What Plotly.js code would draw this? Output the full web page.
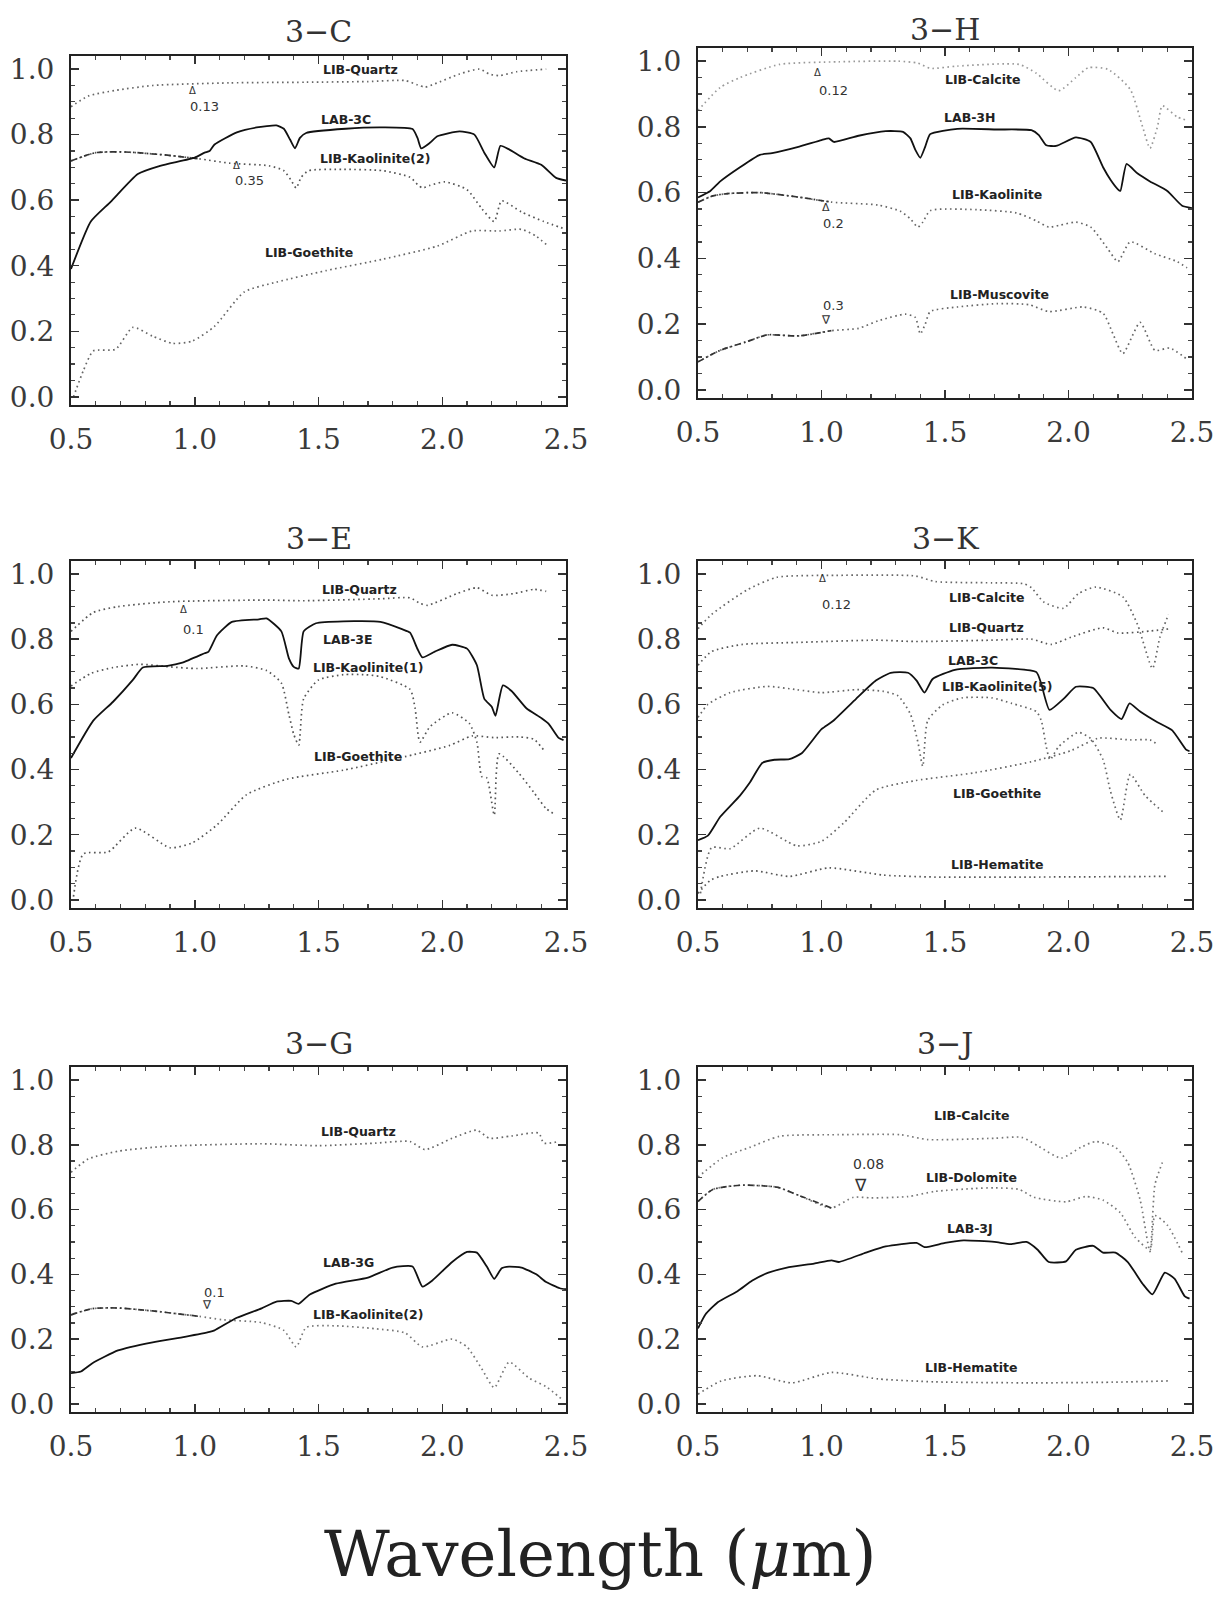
<!DOCTYPE html>
<html>
<head>
<meta charset="utf-8">
<script src="https://cdn.plot.ly/plotly-3.0.1.min.js"></script>
<style>html,body{margin:0;padding:0;background:#fff;}#chart{width:1223px;height:1601px;}</style>
</head>
<body>
<div id="chart"></div>
<script>
// ---------- Panel 3-C ----------
const c_lab_x = [0.50,0.58,0.66,0.77,0.86,1.00,1.04,1.06,1.08,1.17,1.25,1.33,1.36,1.385,1.405,1.425,1.45,1.61,1.76,1.88,1.90,1.915,1.95,1.98,2.07,2.13,2.17,2.21,2.235,2.27,2.33,2.40,2.46,2.50];
const c_lab_y = [0.39,0.535,0.595,0.68,0.705,0.73,0.745,0.75,0.77,0.807,0.822,0.828,0.818,0.785,0.758,0.79,0.805,0.818,0.822,0.817,0.79,0.758,0.775,0.795,0.81,0.80,0.745,0.70,0.766,0.755,0.728,0.708,0.668,0.66];
const c_qtz_x = [0.50,0.57,0.68,0.83,1.14,1.45,1.70,1.85,1.90,1.93,1.97,2.07,2.15,2.19,2.23,2.30,2.42];
const c_qtz_y = [0.885,0.918,0.935,0.95,0.958,0.96,0.962,0.965,0.952,0.945,0.955,0.985,1.0,0.985,0.98,0.992,1.0];
const c_kao_x = [0.50,0.60,0.72,0.88,1.02,1.14,1.30,1.36,1.39,1.41,1.43,1.46,1.60,1.76,1.87,1.90,1.92,1.95,2.01,2.10,2.16,2.21,2.24,2.32,2.41,2.50];
const c_kao_y = [0.72,0.745,0.747,0.738,0.726,0.713,0.705,0.69,0.66,0.637,0.67,0.69,0.694,0.69,0.67,0.648,0.637,0.645,0.656,0.632,0.574,0.535,0.598,0.564,0.535,0.511];
const c_goe_x = [0.51,0.55,0.59,0.68,0.75,0.83,0.91,0.99,1.08,1.20,1.33,1.53,1.76,1.98,2.12,2.23,2.32,2.38,2.42];
const c_goe_y = [0.0,0.08,0.14,0.145,0.212,0.185,0.163,0.17,0.215,0.32,0.35,0.385,0.42,0.46,0.506,0.506,0.511,0.49,0.465];

// ---------- Panel 3-H ----------
const h_lab_x = [0.50,0.55,0.59,0.67,0.75,0.80,0.91,1.00,1.03,1.05,1.15,1.26,1.33,1.36,1.38,1.40,1.42,1.44,1.55,1.71,1.85,1.88,1.91,1.95,2.03,2.09,2.14,2.17,2.20,2.21,2.235,2.28,2.33,2.40,2.46,2.50];
const h_lab_y = [0.585,0.605,0.634,0.677,0.715,0.72,0.74,0.76,0.765,0.754,0.773,0.787,0.785,0.765,0.73,0.706,0.74,0.778,0.794,0.792,0.79,0.775,0.744,0.742,0.768,0.754,0.677,0.639,0.61,0.605,0.687,0.658,0.634,0.605,0.56,0.553];
const h_cal_x = [0.50,0.59,0.67,0.83,1.07,1.31,1.39,1.44,1.55,1.80,1.87,1.96,2.03,2.08,2.16,2.25,2.30,2.33,2.36,2.38,2.44,2.48];
const h_cal_y = [0.85,0.92,0.95,0.99,0.998,1.0,0.994,0.978,0.985,0.99,0.963,0.91,0.95,0.98,0.975,0.914,0.8,0.735,0.8,0.864,0.83,0.82];
const h_kao_x = [0.50,0.56,0.62,0.75,0.91,1.04,1.23,1.32,1.36,1.39,1.41,1.44,1.63,1.79,1.87,1.92,1.96,2.03,2.09,2.16,2.20,2.25,2.35,2.44,2.48];
const h_kao_y = [0.571,0.59,0.597,0.6,0.586,0.571,0.562,0.543,0.52,0.495,0.51,0.545,0.548,0.538,0.514,0.495,0.5,0.51,0.495,0.428,0.39,0.45,0.414,0.39,0.371];
const h_mus_x = [0.50,0.59,0.70,0.78,0.91,1.04,1.15,1.23,1.34,1.38,1.40,1.42,1.44,1.55,1.71,1.84,1.92,2.06,2.14,2.18,2.22,2.29,2.35,2.41,2.48];
const h_mus_y = [0.085,0.12,0.147,0.167,0.164,0.18,0.187,0.21,0.23,0.22,0.17,0.2,0.238,0.252,0.262,0.259,0.238,0.252,0.233,0.17,0.11,0.205,0.12,0.127,0.093];

// ---------- Panel 3-E ----------
const e_lab_x = [0.50,0.59,0.67,0.75,0.79,0.89,0.95,1.04,1.056,1.09,1.15,1.26,1.29,1.35,1.38,1.40,1.42,1.44,1.49,1.60,1.75,1.84,1.87,1.90,1.92,1.97,2.04,2.10,2.14,2.17,2.20,2.215,2.245,2.28,2.34,2.40,2.43,2.47,2.49];
const e_lab_y = [0.435,0.55,0.608,0.675,0.713,0.718,0.728,0.757,0.762,0.812,0.853,0.861,0.864,0.824,0.742,0.715,0.71,0.824,0.849,0.855,0.853,0.83,0.82,0.77,0.744,0.762,0.783,0.771,0.72,0.617,0.593,0.565,0.658,0.641,0.588,0.558,0.54,0.497,0.49];
const e_qtz_x = [0.50,0.59,0.69,0.90,1.29,1.44,1.75,1.87,1.91,1.94,2.06,2.14,2.20,2.29,2.37,2.42];
const e_qtz_y = [0.824,0.882,0.90,0.915,0.92,0.918,0.924,0.927,0.91,0.904,0.94,0.958,0.935,0.94,0.953,0.947];
const e_kao_x = [0.50,0.58,0.67,0.78,0.90,1.01,1.20,1.29,1.35,1.38,1.40,1.42,1.44,1.50,1.60,1.69,1.75,1.87,1.89,1.91,1.95,2.04,2.11,2.14,2.16,2.18,2.21,2.23,2.31,2.37,2.42,2.46];
const e_kao_y = [0.656,0.695,0.713,0.723,0.715,0.71,0.718,0.704,0.665,0.57,0.508,0.475,0.617,0.675,0.691,0.691,0.685,0.646,0.589,0.484,0.531,0.574,0.541,0.484,0.378,0.374,0.26,0.448,0.388,0.33,0.28,0.26];
const e_goe_x = [0.51,0.55,0.65,0.76,0.90,0.99,1.09,1.21,1.37,1.60,1.83,2.03,2.12,2.21,2.31,2.37,2.41];
const e_goe_y = [0.01,0.141,0.147,0.22,0.16,0.175,0.23,0.323,0.37,0.398,0.436,0.474,0.503,0.498,0.5,0.493,0.46];

// ---------- Panel 3-K ----------
const k_lab_x = [0.50,0.54,0.59,0.67,0.71,0.76,0.81,0.87,0.92,1.00,1.045,1.14,1.22,1.28,1.35,1.385,1.417,1.45,1.54,1.69,1.87,1.89,1.923,1.98,2.03,2.10,2.17,2.215,2.247,2.29,2.36,2.42,2.476,2.49];
const k_lab_y = [0.183,0.197,0.255,0.32,0.36,0.42,0.43,0.432,0.45,0.524,0.548,0.617,0.673,0.697,0.697,0.673,0.636,0.678,0.706,0.713,0.699,0.662,0.583,0.617,0.654,0.65,0.583,0.555,0.603,0.578,0.545,0.52,0.461,0.456];
const k_cal_x = [0.50,0.555,0.70,0.82,1.06,1.38,1.46,1.69,1.82,1.85,1.90,1.98,2.04,2.11,2.22,2.28,2.34,2.37,2.405];
const k_cal_y = [0.832,0.876,0.952,0.99,0.996,0.994,0.977,0.973,0.97,0.958,0.914,0.895,0.94,0.96,0.93,0.844,0.71,0.806,0.876];
const k_qtz_x = [0.50,0.555,0.68,0.90,1.22,1.38,1.69,1.85,1.93,2.01,2.14,2.20,2.33,2.41];
const k_qtz_y = [0.72,0.762,0.784,0.79,0.797,0.793,0.797,0.80,0.784,0.806,0.835,0.819,0.825,0.832];
const k_kao_x = [0.50,0.54,0.63,0.78,0.90,1.00,1.14,1.25,1.31,1.36,1.39,1.41,1.43,1.49,1.57,1.69,1.77,1.87,1.89,1.91,1.925,1.96,2.04,2.09,2.14,2.17,2.21,2.25,2.31,2.39];
const k_kao_y = [0.56,0.60,0.636,0.655,0.645,0.636,0.645,0.64,0.626,0.57,0.485,0.41,0.55,0.598,0.62,0.62,0.603,0.578,0.55,0.47,0.43,0.47,0.514,0.495,0.43,0.333,0.245,0.385,0.32,0.265];
const k_goe_x = [0.51,0.555,0.63,0.75,0.90,1.00,1.09,1.22,1.38,1.62,1.85,2.01,2.12,2.25,2.33,2.36];
const k_goe_y = [0.02,0.16,0.157,0.22,0.166,0.18,0.236,0.337,0.366,0.39,0.424,0.458,0.496,0.491,0.491,0.477];
const k_hem_x = [0.50,0.55,0.59,0.73,0.87,1.03,1.25,1.46,1.85,2.40];
const k_hem_y = [0.02,0.06,0.072,0.089,0.072,0.098,0.076,0.07,0.07,0.072];

// ---------- Panel 3-G ----------
const g_lab_x = [0.50,0.54,0.585,0.69,0.83,0.96,1.06,1.08,1.17,1.27,1.33,1.39,1.42,1.465,1.57,1.70,1.80,1.88,1.92,1.96,2.04,2.10,2.14,2.18,2.21,2.24,2.27,2.32,2.38,2.42,2.475,2.50];
const g_lab_y = [0.095,0.10,0.125,0.165,0.19,0.207,0.222,0.227,0.266,0.295,0.316,0.318,0.309,0.338,0.371,0.39,0.421,0.424,0.362,0.381,0.438,0.469,0.467,0.424,0.386,0.419,0.424,0.421,0.40,0.376,0.357,0.354];
const g_qtz_x = [0.50,0.57,0.69,0.88,1.27,1.50,1.73,1.87,1.93,2.04,2.14,2.19,2.28,2.39,2.41,2.47];
const g_qtz_y = [0.715,0.756,0.78,0.795,0.803,0.797,0.805,0.81,0.785,0.82,0.845,0.82,0.827,0.836,0.805,0.81];
const g_kao_x = [0.50,0.585,0.69,0.83,1.02,1.11,1.27,1.36,1.41,1.45,1.57,1.73,1.85,1.92,2.04,2.10,2.16,2.21,2.27,2.35,2.42,2.49];
const g_kao_y = [0.275,0.294,0.296,0.287,0.27,0.26,0.251,0.227,0.176,0.236,0.241,0.232,0.219,0.176,0.2,0.176,0.108,0.05,0.129,0.08,0.053,0.01];

// ---------- Panel 3-J ----------
const j_lab_x = [0.50,0.53,0.58,0.66,0.72,0.785,0.86,0.97,1.04,1.07,1.18,1.26,1.385,1.417,1.50,1.575,1.70,1.765,1.83,1.875,1.92,1.99,2.03,2.10,2.14,2.19,2.24,2.30,2.34,2.39,2.43,2.47,2.49];
const j_lab_y = [0.233,0.276,0.314,0.348,0.381,0.405,0.421,0.433,0.443,0.438,0.467,0.486,0.497,0.484,0.497,0.505,0.50,0.493,0.50,0.476,0.438,0.44,0.476,0.488,0.467,0.467,0.438,0.371,0.338,0.405,0.386,0.333,0.325];
const j_cal_x = [0.50,0.60,0.71,0.83,1.07,1.32,1.43,1.70,1.81,1.875,1.97,2.05,2.11,2.19,2.24,2.29,2.33,2.35,2.38];
const j_cal_y = [0.70,0.76,0.792,0.826,0.831,0.831,0.816,0.82,0.823,0.797,0.759,0.792,0.81,0.792,0.745,0.63,0.47,0.677,0.745];
const j_dol_x = [0.50,0.56,0.67,0.82,0.91,1.04,1.13,1.20,1.35,1.46,1.62,1.70,1.80,1.86,1.99,2.07,2.14,2.21,2.27,2.33,2.35,2.40,2.46];
const j_dol_y = [0.625,0.662,0.675,0.669,0.643,0.605,0.638,0.636,0.64,0.656,0.665,0.667,0.662,0.638,0.624,0.64,0.629,0.59,0.514,0.476,0.581,0.552,0.467];
const j_hem_x = [0.50,0.595,0.74,0.88,1.04,1.23,1.46,1.86,2.18,2.41];
const j_hem_y = [0.03,0.071,0.087,0.065,0.097,0.077,0.068,0.065,0.067,0.071];

// ---------- text ----------
const panelTitles = ['3\u2212C','3\u2212H','3\u2212E','3\u2212K','3\u2212G','3\u2212J'];
const xTickVals = [0.5,1.0,1.5,2.0,2.5];
const xTickText = ['0.5','1.0','1.5','2.0','2.5'];
const yTickVals = [0.0,0.2,0.4,0.6,0.8,1.0];
const yTickText = ['0.0','0.2','0.4','0.6','0.8','1.0'];
const xAxisTitle = 'Wavelength (<i>\u03bc</i>m)';

// curve labels: [panel index, text, x, y]
const curveLabels = [
  [0,'LIB-Quartz',1.67,1.0],[0,'LAB-3C',1.61,0.845],[0,'LIB-Kaolinite(2)',1.73,0.728],[0,'LIB-Goethite',1.46,0.44],
  [1,'LIB-Calcite',1.65,0.945],[1,'LAB-3H',1.60,0.828],[1,'LIB-Kaolinite',1.71,0.593],[1,'LIB-Muscovite',1.72,0.29],
  [2,'LIB-Quartz',1.666,0.953],[2,'LAB-3E',1.62,0.80],[2,'LIB-Kaolinite(1)',1.70,0.712],[2,'LIB-Goethite',1.66,0.44],
  [3,'LIB-Calcite',1.67,0.928],[3,'LIB-Quartz',1.67,0.836],[3,'LAB-3C',1.615,0.735],[3,'LIB-Kaolinite(5)',1.71,0.656],[3,'LIB-Goethite',1.71,0.327],[3,'LIB-Hematite',1.71,0.11],
  [4,'LIB-Quartz',1.66,0.842],[4,'LAB-3G',1.62,0.436],[4,'LIB-Kaolinite(2)',1.70,0.277],
  [5,'LIB-Calcite',1.607,0.89],[5,'LIB-Dolomite',1.607,0.70],[5,'LAB-3J',1.60,0.54],[5,'LIB-Hematite',1.607,0.112]
];
// scale markers: [panel, text, x, y, size]
const markerNotes = [
  [0,'\u0394',0.99,0.935,10],[0,'0.13',1.04,0.885,13],[0,'\u0394',1.17,0.705,10],[0,'0.35',1.22,0.66,13],
  [1,'\u0394',0.985,0.965,10],[1,'0.12',1.05,0.91,13],[1,'\u0394',1.02,0.556,11],[1,'0.2',1.05,0.505,13],[1,'0.3',1.05,0.258,13],[1,'\u2207',1.02,0.212,12],
  [2,'\u0394',0.956,0.89,10],[2,'0.1',0.996,0.83,13],
  [3,'\u0394',1.006,0.985,10],[3,'0.12',1.06,0.905,13],
  [4,'0.1',1.08,0.345,13],[4,'\u2207',1.048,0.305,12],
  [5,'0.08',1.19,0.74,14],[5,'\u2207',1.157,0.675,17]
];

// ---------- build ----------
const axisIds = ['','2','3','4','5','6'];
const H = 1601;
// per panel: [left px, right px, top px, bottom px, title center px]
const boxes = [
  [71, 566, 56, 405, 31],
  [698, 1192, 48, 398, 29],
  [71, 566, 561, 908, 538],
  [698, 1192, 561, 908, 538],
  [71, 566, 1067, 1412, 1043],
  [698, 1192, 1067, 1412, 1043]
];
const traces = [];

function seg(xs, ys, x0, x1){
  const X=[],Y=[];
  xs.forEach((v,i)=>{ if(v>=x0 && v<=x1){ X.push(v); Y.push(ys[i]); } });
  return [X,Y];
}
function lab(p, xs, ys){
  traces.push({x:xs, y:ys, xaxis:'x'+axisIds[p], yaxis:'y'+axisIds[p], mode:'lines',
    line:{color:'#111', width:1.8, shape:'spline', smoothing:0.5}, hoverinfo:'skip'});
}
function lib(p, xs, ys, col, darkStart){
  traces.push({x:xs, y:ys, xaxis:'x'+axisIds[p], yaxis:'y'+axisIds[p], mode:'lines',
    line:{color:col||'#555', width:1.7, dash:'1.6px,3.4px', shape:'spline', smoothing:0.6}, hoverinfo:'skip'});
  if(darkStart){
    const s = seg(xs, ys, 0.5, 1.05);
    traces.push({x:s[0], y:s[1], xaxis:'x'+axisIds[p], yaxis:'y'+axisIds[p], mode:'lines',
      line:{color:'#333', width:1.7, dash:'6px,3px,1.6px,3px', shape:'spline', smoothing:0.6}, hoverinfo:'skip'});
  }
}

// 3-C
lib(0, c_qtz_x, c_qtz_y, '#666', false);
lib(0, c_kao_x, c_kao_y, '#555', true);
lib(0, c_goe_x, c_goe_y, '#666', false);
lab(0, c_lab_x, c_lab_y);
// 3-H
lib(1, h_cal_x, h_cal_y, '#999', false);
lib(1, h_kao_x, h_kao_y, '#666', true);
lib(1, h_mus_x, h_mus_y, '#666', true);
lab(1, h_lab_x, h_lab_y);
// 3-E
lib(2, e_qtz_x, e_qtz_y, '#555', false);
lib(2, e_kao_x, e_kao_y, '#555', false);
lib(2, e_goe_x, e_goe_y, '#555', false);
lab(2, e_lab_x, e_lab_y);
// 3-K
lib(3, k_cal_x, k_cal_y, '#666', false);
lib(3, k_qtz_x, k_qtz_y, '#555', false);
lib(3, k_kao_x, k_kao_y, '#666', false);
lib(3, k_goe_x, k_goe_y, '#666', false);
lib(3, k_hem_x, k_hem_y, '#555', false);
lab(3, k_lab_x, k_lab_y);
// 3-G
lib(4, g_qtz_x, g_qtz_y, '#666', false);
lib(4, g_kao_x, g_kao_y, '#777', true);
lab(4, g_lab_x, g_lab_y);
// 3-J
lib(5, j_cal_x, j_cal_y, '#777', false);
lib(5, j_dol_x, j_dol_y, '#777', true);
lib(5, j_hem_x, j_hem_y, '#666', false);
lab(5, j_lab_x, j_lab_y);

const tickFont = {family:'DejaVu Serif', size:28, color:'#3a3a3a'};
const layout = {
  width:1223, height:H, margin:{l:0,r:0,t:0,b:0},
  paper_bgcolor:'#fff', plot_bgcolor:'#fff', showlegend:false,
  annotations:[]
};
for(let p=0;p<6;p++){
  const b = boxes[p];
  const id = axisIds[p];
  const xd = [b[0]/1223, b[1]/1223];
  const yd = [1-b[3]/H, 1-b[2]/H];
  layout['xaxis'+id] = {
    domain: xd, anchor:'y'+id, range:[0.5,2.5],
    tickmode:'array', tickvals:xTickVals, ticktext:xTickText,
    ticks:'inside', ticklen:8, tickwidth:1.5, tickcolor:'#333',
    showline:true, linewidth:2, linecolor:'#222', mirror:'allticks',
    showgrid:false, zeroline:false, tickfont:tickFont, ticklabelstandoff:8,
    minor:{tick0:0.5, dtick:0.1, ticks:'inside', ticklen:4, tickwidth:1.2, tickcolor:'#444', showgrid:false}
  };
  layout['yaxis'+id] = {
    domain: yd, anchor:'x'+id, range:[-0.025,1.04],
    tickmode:'array', tickvals:yTickVals, ticktext:yTickText,
    ticks:'inside', ticklen:8, tickwidth:1.5, tickcolor:'#333',
    showline:true, linewidth:2, linecolor:'#222', mirror:'allticks',
    showgrid:false, zeroline:false, tickfont:tickFont, ticklabelstandoff:9,
    minor:{tick0:0, dtick:0.05, ticks:'inside', ticklen:4, tickwidth:1.2, tickcolor:'#444', showgrid:false}
  };
  layout.annotations.push({xref:'paper', yref:'paper', x:(xd[0]+xd[1])/2, y:1-b[4]/H,
    xanchor:'center', yanchor:'middle', text:panelTitles[p], showarrow:false,
    font:{family:'DejaVu Serif', size:30, color:'#333'}});
}
curveLabels.forEach(l=>{
  const id = axisIds[l[0]];
  layout.annotations.push({xref:'x'+id, yref:'y'+id, x:l[2], y:l[3], text:'<b>'+l[1]+'</b>',
    showarrow:false, xanchor:'center', yanchor:'middle',
    font:{family:'DejaVu Sans', size:12.5, color:'#222'}});
});
markerNotes.forEach(m=>{
  const id = axisIds[m[0]];
  layout.annotations.push({xref:'x'+id, yref:'y'+id, x:m[2], y:m[3], text:m[1],
    showarrow:false, xanchor:'center', yanchor:'middle',
    font:{family:'DejaVu Sans', size:m[4], color:'#333'}});
});
layout.annotations.push({xref:'paper', yref:'paper', x:0.4906, y:1-1554/H,
  xanchor:'center', yanchor:'middle', text:xAxisTitle, showarrow:false,
  font:{family:'DejaVu Serif', size:64, color:'#222'}});

Plotly.newPlot('chart', traces, layout, {staticPlot:true, displayModeBar:false});
</script>
</body>
</html>
